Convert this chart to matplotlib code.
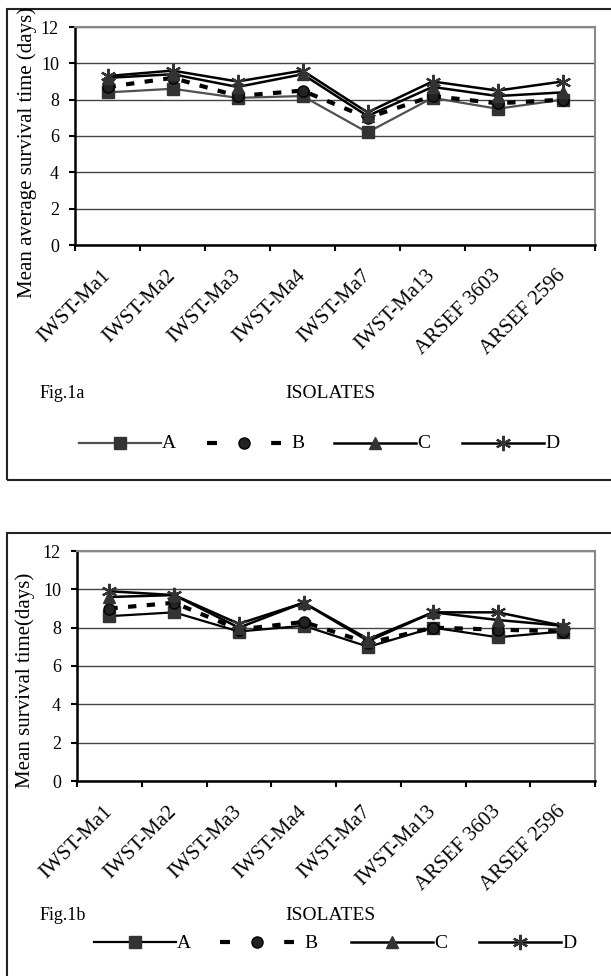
import matplotlib.pyplot as plt
from matplotlib.patches import Rectangle
from matplotlib.lines import Line2D
from matplotlib.transforms import ScaledTranslation

# ---------------------
# data
# ---------------------
isolates = ['IWST-Ma1', 'IWST-Ma2', 'IWST-Ma3', 'IWST-Ma4', 'IWST-Ma7',
            'IWST-Ma13', 'ARSEF 3603', 'ARSEF 2596']
series_names = ['A', 'B', 'C', 'D']

# Fig.1a  mean average survival time (days)
a1 = [8.4, 8.6, 8.1, 8.2, 6.2, 8.1, 7.5, 8.0]
b1 = [8.7, 9.2, 8.2, 8.5, 7.0, 8.2, 7.8, 8.0]
c1 = [9.2, 9.4, 8.7, 9.4, 7.1, 8.7, 8.2, 8.4]
d1 = [9.3, 9.6, 9.0, 9.6, 7.3, 9.0, 8.5, 9.0]

# Fig.1b  mean survival time (days)
a2 = [8.6, 8.8, 7.8, 8.1, 7.0, 8.0, 7.5, 7.8]
b2 = [9.0, 9.3, 7.9, 8.3, 7.2, 8.0, 7.9, 7.8]
c2 = [9.6, 9.7, 8.0, 9.3, 7.3, 8.8, 8.4, 8.1]
d2 = [9.9, 9.7, 8.2, 9.3, 7.4, 8.8, 8.8, 8.1]

plt.rcParams['font.family'] = ['Liberation Serif', 'DejaVu Serif']

W, H = 611, 976
fig = plt.figure(figsize=(W / 100, H / 100), dpi=100)

styles = [
    dict(color='#505050', lw=1.6, ls='-', marker='s', ms=8, mfc='#333333', mec='#333333'),
    dict(color='black', lw=3, ls=(0, (2, 2.5)), marker='o', ms=8, mfc='#222222', mec='black'),
    dict(color='black', lw=1.8, ls='-', marker='^', ms=9, mfc='#333333', mec='#333333'),
    dict(color='black', lw=1.8, ls='-', marker=(6, 2, 0), ms=11, mfc='#333333', mec='#333333', mew=1.6),
]


def px_axes(l, r, t, b):
    return fig.add_axes([l / W, 1 - b / H, (r - l) / W, (b - t) / H])


def legend_row(starts, y, a_color):
    # hand-placed legend, pixel positions
    for i, s in enumerate(starts):
        st = dict(styles[i])
        if i == 0:
            st['color'] = a_color
        if i == 1:
            st['ls'] = (0, (2.4, 5.3))
            ln = 74
        else:
            ln = 82
        line = dict(st)
        mk = {k: line.pop(k) for k in ['marker', 'ms', 'mfc', 'mec', 'mew'] if k in line}
        fig.add_artist(Line2D([s / W, (s + ln) / W], [1 - y / H] * 2, **line))
        fig.add_artist(Line2D([(s + ln / 2) / W], [1 - y / H], ls='none', **mk))
        fig.text((s + ln + (10 if i == 1 else 1)) / W, 1 - (y + 1) / H, series_names[i],
                 ha='left', va='center', fontsize=14)


def draw_panel(ax, data, ylabel, ylab_pos, fig_txt, iso_y, a_color):
    x = list(range(len(isolates)))
    for i, (vals, st) in enumerate(zip(data, styles)):
        st = dict(st)
        if i == 0:
            st['color'] = a_color
        ax.plot(x, vals, label=series_names[i], **st)
    ax.set_xlim(-0.5, len(isolates) - 0.5)
    ax.set_ylim(0, 12)
    ax.set_yticks(range(0, 13, 2))
    ax.set_xticks([i - 0.5 for i in range(len(isolates) + 1)])
    ax.set_xticklabels([])
    ax.set_xticks(x, minor=True)
    ax.set_xticklabels(isolates, minor=True, rotation=45, ha='right', va='center',
                       rotation_mode='anchor', fontsize=15)
    shift = ScaledTranslation(-13 / 100, 0, fig.dpi_scale_trans)
    for lab in ax.get_xticklabels(minor=True):
        lab.set_transform(lab.get_transform() + shift)
    ax.tick_params(axis='x', which='minor', length=0, pad=20)
    ax.tick_params(axis='x', which='major', length=4.5, width=1.5, direction='out')
    ax.tick_params(axis='y', length=4.5, width=1.5, direction='out', labelsize=13, pad=7)
    ax.grid(axis='y', color='#444444', lw=1)
    ax.set_axisbelow(True)
    for s in ['top', 'right']:
        ax.spines[s].set_color('#888888')
        ax.spines[s].set_linewidth(1.5)
    for s in ['left', 'bottom']:
        ax.spines[s].set_linewidth(1.8)
    fig.text(ylab_pos[0] / W, 1 - ylab_pos[1] / H, ylabel, rotation=90,
             ha='center', va='center', fontsize=15)
    fig.text(40 / W, 1 - iso_y / H, fig_txt, ha='left', va='center', fontsize=13)
    fig.text(330 / W, 1 - iso_y / H, 'ISOLATES', ha='center', va='center', fontsize=14)


ax1 = px_axes(75, 595, 27, 245)
draw_panel(ax1, [a1, b1, c1, d1], 'Mean average survival time (days)',
           (27, 152), 'Fig.1a', 394, '#505050')
legend_row([79, 207, 334, 462], 443, '#505050')

ax2 = px_axes(77, 595, 551, 781)
draw_panel(ax2, [a2, b2, c2, d2], 'Mean survival time(days)',
           (25, 680), 'Fig.1b', 916, 'black')
legend_row([94, 220, 351, 479], 942, 'black')

# outer boxes
fig.patches.append(Rectangle((7 / W, 1 - 480 / H), 620 / W, 471 / H, transform=fig.transFigure,
                             fill=False, lw=1.5, ec='#222222'))
fig.patches.append(Rectangle((7 / W, 1 - 1000 / H), 620 / W, 467 / H, transform=fig.transFigure,
                             fill=False, lw=1.5, ec='#222222'))

fig.savefig('out.png', dpi=100)
